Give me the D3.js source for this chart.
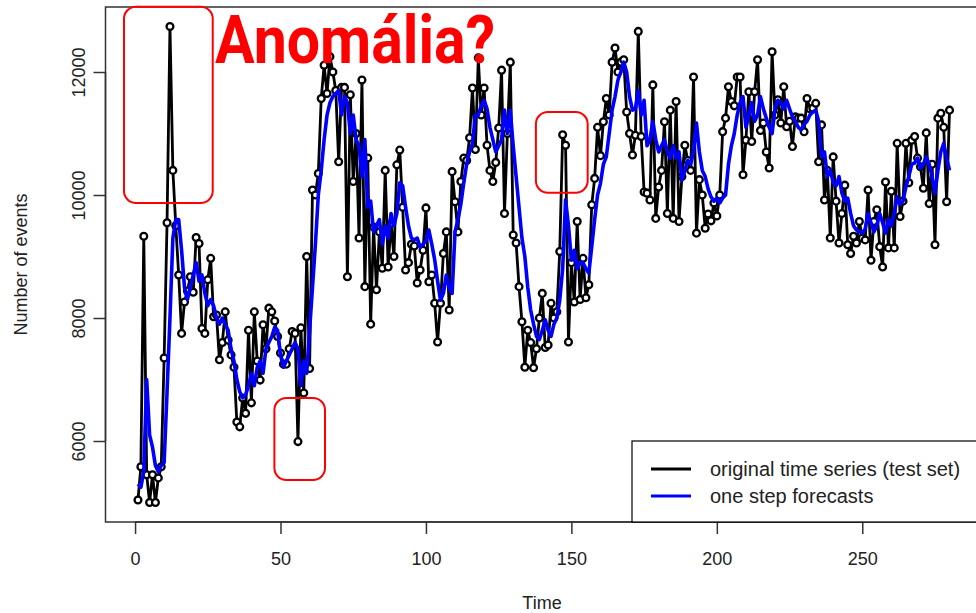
<!DOCTYPE html>
<html><head><meta charset="utf-8">
<script src="https://cdn.jsdelivr.net/npm/d3@7"></script>
<style>body{margin:0;background:#fff}svg{display:block}</style>
</head><body><svg id="c" width="976" height="613"></svg>
<script>
// Observed series (test set), t = 1..280
const observed = [
5040,5580,9330,5450,5000,5450,5000,5400,5580,7350,
9550,12740,10400,9500,8700,7750,8260,8440,8670,8420,
9310,9210,7830,7750,8620,8970,8020,8050,7320,7600,
8100,7640,7400,7200,6310,6230,6700,6450,7800,6620,
8100,7300,6990,7890,7500,8160,8100,7950,7700,7430,
7250,7250,7500,7780,7750,5990,7840,6780,9000,7180,
10080,10000,10350,11570,12110,11650,12250,12000,11700,10540,
11750,11750,8670,11630,10220,11000,9300,11870,8510,10600,
7900,9480,8460,9400,8810,10400,8830,9540,9000,10490,
10730,9800,8780,8900,9200,9170,8570,8780,9100,9790,
8590,8700,8240,7610,8240,9050,9400,8130,10380,9890,
9400,10220,10600,10560,10930,11740,10740,12230,11300,11740,
10810,10400,10220,10530,11090,12030,9700,11000,12160,9350,
9220,8510,7940,7200,7800,7600,7190,7500,8000,8400,
7520,7560,8240,8000,8100,9080,10980,10810,7610,8900,
8260,9570,8300,8970,8330,8540,9840,10270,11100,10640,
11190,11570,11300,12160,12390,12000,12160,12200,11350,11000,
10650,10970,12660,10950,10050,10030,9920,11790,9620,10130,
10400,11190,9700,11380,9620,11520,9570,10300,10810,10560,
10400,11920,9380,10250,10000,9460,9690,9580,9870,9660,
10000,11030,11250,11760,11520,11450,11920,11920,10330,10890,
11680,10870,11680,12200,11050,11170,10700,10440,12330,11300,
11550,11170,11760,11110,11200,10790,11270,11250,11250,11030,
11570,11400,11410,11490,10540,11140,9920,10400,9300,10620,
9900,9220,9700,10160,9190,9050,9330,9220,9570,9300,
9270,10080,8940,9570,9760,9160,8830,10210,9140,10060,
9140,10840,9650,9900,10840,10200,10890,10950,10600,10460,
10110,11010,9860,10500,9190,11250,11330,11100,9890,11380
];
// One step forecasts, t = 1..280
const forecast = [
5300,5250,5500,7000,6100,5900,5600,5500,5600,5650,
6800,8000,9300,9600,9600,9100,8500,8300,8500,8700,
8900,8600,8700,8400,8200,8300,8200,8000,7900,8000,
7900,7800,7500,7300,7000,6800,6700,6750,6900,7100,
6900,7200,7300,7100,7500,7600,7700,7850,7800,7400,
7200,7300,7400,7500,7600,7500,6900,7300,7100,7800,
8500,9200,10000,10400,10900,11300,11500,11600,11650,11700,
11300,11600,11500,11000,11300,10900,10800,10300,10900,9800,
9900,9400,9500,9600,9200,9500,9300,9700,9500,9700,
10200,10150,9800,9500,9300,9270,9300,9150,9200,9250,
9430,9200,8950,8600,8290,8400,8700,8500,8400,9400,
9600,9850,10200,10500,10700,10840,11300,11300,11450,11540,
11400,11100,10900,10700,10800,10900,11380,11000,11380,10800,
10300,9800,9300,9000,8500,8130,7900,7700,7650,7800,
7970,7800,7700,7900,8000,8290,8800,9920,9500,8940,
9100,8800,8900,8900,8800,8730,9160,9600,10000,10190,
10500,10620,11000,11380,11600,11870,12000,12160,12000,11600,
11380,11400,11700,11300,11540,10800,10900,11200,10900,10700,
10800,10900,10700,10600,10800,10600,10700,10240,10400,10560,
10500,10700,11170,10700,10400,10300,10100,9970,9900,9950,
9870,9950,10000,10500,10800,11000,11300,11500,11600,11100,
11300,11500,11200,11300,11600,11400,11250,11100,11000,11400,
11540,11500,11400,11540,11400,11270,11200,11100,11060,11150,
11200,11300,11350,11380,11200,10620,10700,10300,10400,10200,
10150,10300,10030,9900,9950,9700,9500,9430,9400,9380,
9450,9700,9550,9400,9500,9700,9550,9380,9600,9500,
9700,9970,9850,9900,10130,10300,10500,10520,10600,10430,
10500,10620,10500,10300,10030,10400,10700,10840,10600,10400
];
const xTicks = [0,50,100,150,200,250];
const yTicks = [6000,8000,10000,12000];
const legendLabels = ["original time series (test set)","one step forecasts"];
const titleText = "Anomália?";
// Annotation boxes in data units: [t0, t1, v0, v1]
const anomalyBoxes = [[-3.8,26.7,9870,13060],[47.9,65.3,5366,6700],[137.8,155.6,10037,11350]];

const svg = d3.select("#c");
const n = observed.length;
const x = d3.scaleLinear().domain([1-0.04*(n-1), n+0.04*(n-1)]).range([105.5, 982]);
const yMin = 4683, yMax = 13057;
const y = d3.scaleLinear().domain([yMin, yMax]).range([522, 7]);
const idx = d3.range(1, n+1);
const txt = "#222";
const font = "Liberation Sans, Arial, sans-serif";

// box
svg.append("rect").attr("x",105.5).attr("y",7).attr("width",982-105.5).attr("height",515)
  .attr("fill","none").attr("stroke","#333").attr("stroke-width",1.5);

// x axis
const xa = svg.append("g").attr("transform","translate(0,522)")
  .call(d3.axisBottom(x).tickValues(xTicks).tickSize(12).tickPadding(18).tickFormat(d3.format("d")));
xa.select(".domain").attr("stroke","#333").attr("stroke-width",1.5).attr("d",`M${x(0)},0H${x(250)}`);
xa.selectAll(".tick line").attr("stroke","#333").attr("stroke-width",1.5);
xa.selectAll("text").attr("font-family",font).attr("font-size",18).attr("fill",txt);

// y axis
const ya = svg.append("g").attr("transform","translate(105.5,0)")
  .call(d3.axisLeft(y).tickValues(yTicks).tickSize(12).tickPadding(0).tickFormat(d3.format("d")));
ya.select(".domain").attr("stroke","#333").attr("stroke-width",1.5).attr("d",`M0,${y(6000)}V${y(12000)}`);
ya.selectAll(".tick line").attr("stroke","#333").attr("stroke-width",1.5);
ya.selectAll("text").attr("font-family",font).attr("font-size",18).attr("fill",txt)
  .attr("transform","translate(-27,0) rotate(-90)").attr("text-anchor","middle").attr("x",0).attr("dy","0.35em");

svg.append("text").attr("x",542).attr("y",609).attr("text-anchor","middle")
  .attr("font-family",font).attr("font-size",18).attr("fill",txt).text("Time");
svg.append("text").attr("transform",`translate(27,${(7+522)/2}) rotate(-90)`).attr("text-anchor","middle")
  .attr("font-family",font).attr("font-size",18).attr("fill",txt).text("Number of events");

const plot = svg.append("g");
const lineObs = d3.line().x((d,i)=>x(idx[i])).y(d=>y(d));
plot.append("path").datum(observed).attr("d",lineObs).attr("fill","none").attr("stroke","#000").attr("stroke-width",2.8).attr("stroke-linejoin","round");
plot.selectAll("circle.o").data(observed).join("circle").attr("class","o")
  .attr("cx",(d,i)=>x(idx[i])).attr("cy",d=>y(d)).attr("r",3.4).attr("fill","#fff").attr("stroke","#000").attr("stroke-width",2.3);
plot.append("path").datum(forecast).attr("d",lineObs).attr("fill","none").attr("stroke","#0000ff").attr("stroke-width",3.6).attr("stroke-linejoin","round");

// legend
const lg = svg.append("g");
lg.append("rect").attr("x",632).attr("y",441).attr("width",400).attr("height",81).attr("fill","#fff").attr("stroke","#000").attr("stroke-width",1.2);
const lcol = ["#000","#0000ff"];
legendLabels.forEach((l,i)=>{
  const yy = 469 + i*27;
  lg.append("line").attr("x1",651).attr("x2",691).attr("y1",yy).attr("y2",yy).attr("stroke",lcol[i]).attr("stroke-width",3);
  lg.append("text").attr("x",710).attr("y",yy).attr("dy","0.35em").attr("font-family",font).attr("font-size",20).attr("fill",txt).text(l);
});

// annotations
anomalyBoxes.forEach(b=>{
  svg.append("rect").attr("x",x(b[0])).attr("y",y(b[3])).attr("width",x(b[1])-x(b[0])).attr("height",y(b[2])-y(b[3]))
    .attr("rx",12).attr("fill","none").attr("stroke","#ff0000").attr("stroke-width",2);
});
svg.append("text").attr("x",215).attr("y",63).attr("font-family","Liberation Sans Narrow, Roboto, Arial, sans-serif")
  .attr("font-weight","bold").attr("font-size",66).attr("fill","#ff0000")
  .attr("textLength",280).attr("lengthAdjust","spacingAndGlyphs").text(titleText);
</script></body></html>
